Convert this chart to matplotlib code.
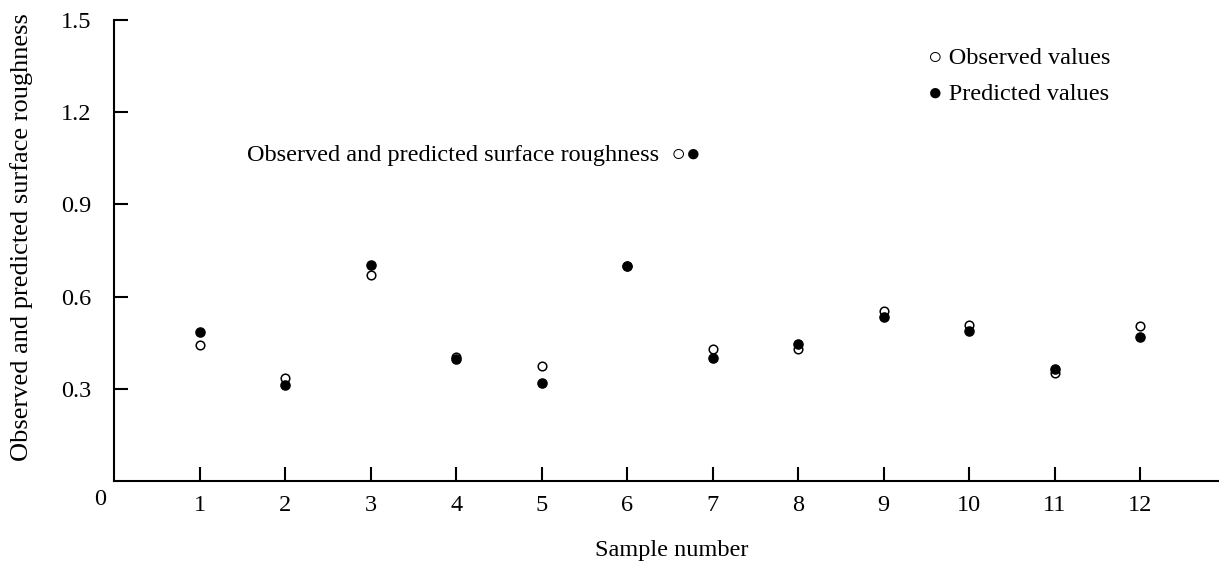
import numpy as np
import matplotlib
matplotlib.use("Agg")
import matplotlib.pyplot as plt

plt.rcParams['font.family'] = ['Liberation Serif', 'DejaVu Sans']

samples = np.arange(1, 13)
observed = [0.442, 0.335, 0.670, 0.405, 0.373, 0.700, 0.429, 0.431, 0.553, 0.507, 0.352, 0.504]
predicted = [0.485, 0.312, 0.703, 0.398, 0.320, 0.701, 0.399, 0.447, 0.534, 0.487, 0.363, 0.469]
yticks = [0.3, 0.6, 0.9, 1.2, 1.5]

fig = plt.figure(figsize=(12.19, 5.63), dpi=100)
ax = fig.add_axes([0.0935, 0.1456, 0.9065, 0.819])

ax.plot(samples, observed, 'o', ms=6.2, mfc='white', mec='black', mew=1.1, ls='none')
ax.plot(samples, predicted, 'o', ms=6.6, mfc='black', mec='black', ls='none')

ax.set_xlim(0, 12.92)
ax.set_ylim(0, 1.5)
ax.set_xticks(samples)
ax.set_yticks(yticks)
ax.set_yticklabels([str(v) for v in yticks])
ax.tick_params(axis='x', direction='in', length=10, width=1.5, labelsize=17.5, pad=10)
ax.tick_params(axis='y', direction='in', length=10, width=1.5, labelsize=17.5, pad=16)

for s in ['top', 'right']:
	ax.spines[s].set_visible(False)
for s in ['left', 'bottom']:
	ax.spines[s].set_linewidth(1.5)

ax.annotate("0", xy=(0, 0), xytext=(-10, -13), textcoords='offset points',
	ha='center', va='center', fontsize=17.5)

ax.set_xlabel("Sample number", fontsize=17.5, va='center')
ax.xaxis.set_label_coords(0.5045, -0.1497)
ax.set_ylabel("Observed and predicted surface roughness", fontsize=19, va='center')
ax.yaxis.set_label_coords(-0.0833, 0.529)

ax.text(1.556, 1.06, "Observed and predicted surface roughness  \u25cb\u25cf",
	fontsize=17.5, va='center', ha='left')
ax.text(9.52, 1.376, "\u25cb Observed values", fontsize=17.5, va='center', ha='left')
ax.text(9.52, 1.256, "\u25cf Predicted values", fontsize=17.5, va='center', ha='left')

fig.savefig("out.png", dpi=100)
